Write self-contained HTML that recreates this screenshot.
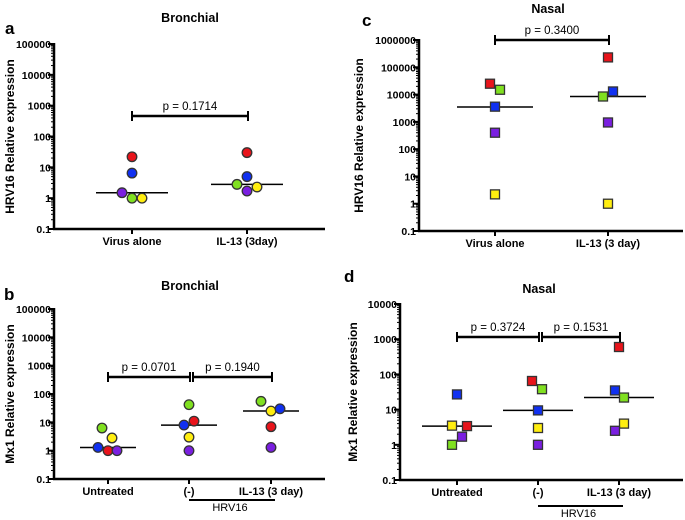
<!DOCTYPE html>
<html><head><meta charset="utf-8"><style>
body{margin:0;background:#fff;}
svg{display:block;font-family:"Liberation Sans",sans-serif;}
</style></head><body>
<svg id="fig" width="685" height="520" viewBox="0 0 685 520" xmlns="http://www.w3.org/2000/svg"></svg>
<script>
// ---- data ----
const aCategories=["Virus alone","IL-13 (3day)"];
const aColors=["red","blue","purple","green","yellow"];
const aValues=[[22,6.5,1.5,1,1],[30,5,1.7,2.8,2.3]];
const aJitter=[[0,0,-10,0,10],[0,0,0,-10,10]];
const aMedians=[1.5,2.8];
const aP=["p = 0.1714"];

const bCategories=["Untreated","(-)","IL-13 (3 day)"];
const bColors=["green","yellow","blue","red","purple"];
const bValues=[[6.3,2.8,1.3,1,1],[42,3,8,11,1],[55,25,30,7,1.3]];
const bJitter=[[-6,4,-10,0,9],[0,0,-5,5,0],[-10,0,9,0,0]];
const bMedians=[1.3,8,25];
const bP=["p = 0.0701","p = 0.1940"];

const cCategories=["Virus alone","IL-13 (3 day)"];
const cColors=["red","green","blue","purple","yellow"];
const cValues=[[25000,15000,3600,400,2.2],[230000,8500,13000,950,1]];
const cJitter=[[-5,5,0,0,0],[0,-5,5,0,0]];
const cMedians=[3500,8500];
const cP=["p = 0.3400"];

const dCategories=["Untreated","(-)","IL-13 (3 day)"];
const dColors=["blue","yellow","red","purple","green"];
const dValues=[[27,3.5,3.4,1.7,1],[9.5,3,65,1,38],[35,4,600,2.5,22]];
const dJitter=[[0,-5,10,5,-5],[0,0,-6,0,4],[-4,5,0,-4,5]];
const dMedians=[3.4,9.5,22];
const dP=["p = 0.3724","p = 0.1531"];

const COL={red:"#e8141b",blue:"#1030f0",purple:"#7a1fe0",green:"#80e020",yellow:"#ffee10"};
const NS="http://www.w3.org/2000/svg";
const svg=document.getElementById('fig');
function mk(tag,attrs,parent,text){const e=document.createElementNS(NS,tag);for(const k in attrs)e.setAttribute(k,attrs[k]);if(text!==undefined)e.textContent=text;(parent||svg).appendChild(e);return e;}

function panel(o){
  const g=mk('g',{});
  
  
  const y=v=>o.y0-(Math.log10(v)-o.minExp)/(o.maxExp-o.minExp)*(o.y0-o.y1);
  const x=i=>o.cats[i];
  // letter, title
  const L=mk('text',{x:o.letter[0],y:o.letter[1],'font-size':17,'font-weight':'bold'},g,o.letter[2]);
  
  const T=mk('text',{x:o.title[0],y:o.title[1],'font-size':12.5,'font-weight':'bold','text-anchor':'middle'},g,o.title[2]);
  
  // axes
  const ya=mk('line',{x1:o.ax,y1:o.y1-1,x2:o.ax,y2:o.y0+1,stroke:'#000','stroke-width':2.5},g);
  
  const xa=mk('line',{x1:o.ax-1,y1:o.y0,x2:o.xend,y2:o.y0,stroke:'#000','stroke-width':2.5},g);
  
  for(let e=o.minExp;e<=o.maxExp;e++){
    const yy=y(Math.pow(10,e));
    mk('line',{x1:o.ax-6,y1:yy,x2:o.ax,y2:yy,stroke:'#000','stroke-width':2},g);
    const lab=e<0?"0.1":String(Math.pow(10,e));
    const t=mk('text',{x:o.ax-3,y:yy+4,'font-size':10.5,'font-weight':'bold','text-anchor':'end'},g,lab);
    
    if(e<o.maxExp)for(let m=2;m<10;m++){const ym=y(m*Math.pow(10,e));mk('line',{x1:o.ax-3,y1:ym,x2:o.ax,y2:ym,stroke:'#000','stroke-width':1},g);}
  }
  const yt=mk('text',{transform:`translate(${o.ytx},${(o.y0+o.y1)/2}) rotate(-90)`,'font-size':12,'font-weight':'bold','text-anchor':'middle'},g,o.ytitle);
  
  o.labels.forEach((c,i)=>{
    mk('line',{x1:x(i),y1:o.y0,x2:x(i),y2:o.y0+5,stroke:'#000','stroke-width':2},g);
    const t=mk('text',{x:x(i),y:o.y0+16,'font-size':11,'font-weight':'bold','text-anchor':'middle'},g,c);
    
  });
  if(o.hrv){
    const hl=mk('line',{x1:x(1),y1:o.hrv,x2:x(2)+4,y2:o.hrv,stroke:'#000','stroke-width':2},g);
    
    const ht=mk('text',{x:(x(1)+x(2))/2,y:o.hrv+11,'font-size':11,'text-anchor':'middle'},g,'HRV16');
    
  }
  // p brackets
  o.p.forEach((p,i)=>{
    const xa1=x(i)+(i>0?4:0), xa2=x(i+1)-(i===0&&o.p.length>1?0:0)+1;
    const bg=mk('g',{},g);
    
    mk('line',{x1:xa1,y1:o.by,x2:xa2,y2:o.by,stroke:'#000','stroke-width':2.5},bg);
    mk('line',{x1:xa1,y1:o.by-5,x2:xa1,y2:o.by+5,stroke:'#000','stroke-width':2},bg);
    mk('line',{x1:xa2,y1:o.by-5,x2:xa2,y2:o.by+5,stroke:'#000','stroke-width':2},bg);
    mk('text',{x:(xa1+xa2)/2,y:o.by-6,'font-size':11.5,'text-anchor':'middle'},bg,p);
  });
  // medians
  o.medians.forEach((m,i)=>{
    const ml=mk('line',{x1:x(i)-o.mw,y1:y(m),x2:x(i)+o.mw,y2:y(m),stroke:'#000','stroke-width':1.5},g);
    
  });
  // points
  o.values.forEach((arr,i)=>arr.forEach((v,j)=>{
    const cx=x(i)+o.jitter[i][j], cy=y(v), c=COL[o.colors[j]];
    let el;
    if(o.square) el=mk('rect',{x:cx-4.5,y:cy-4.5,width:9,height:9,fill:c,stroke:'#333','stroke-width':1.3},g);
    else el=mk('circle',{cx:cx,cy:cy,r:4.8,fill:c,stroke:'#333','stroke-width':1.3},g);
    
    
  }));
}

panel({name:'panel-a-bronchial-hrv16',letter:[5,34,'a'],title:[190,22,'Bronchial'],ax:54,y0:229,y1:44,minExp:-1,maxExp:5,xend:325,ytx:14,ytitle:'HRV16 Relative expression',cats:[132,247],labels:aCategories,values:aValues,jitter:aJitter,colors:aColors,medians:aMedians,mw:36,p:aP,by:116,square:false});
panel({name:'panel-b-bronchial-mx1',letter:[4,300,'b'],title:[190,290,'Bronchial'],ax:54,y0:479,y1:309,minExp:-1,maxExp:5,xend:325,ytx:14,ytitle:'Mx1 Relative expression',cats:[108,189,271],labels:bCategories,values:bValues,jitter:bJitter,colors:bColors,medians:bMedians,mw:28,p:bP,by:377,square:false,hrv:500});
panel({name:'panel-c-nasal-hrv16',letter:[362,26,'c'],title:[548,13,'Nasal'],ax:419,y0:231,y1:40,minExp:-1,maxExp:6,xend:683,ytx:363,ytitle:'HRV16 Relative expression',cats:[495,608],labels:cCategories,values:cValues,jitter:cJitter,colors:cColors,medians:cMedians,mw:38,p:cP,by:40,square:true});
panel({name:'panel-d-nasal-mx1',letter:[344,282,'d'],title:[539,293,'Nasal'],ax:400,y0:480,y1:304,minExp:-1,maxExp:4,xend:683,ytx:357,ytitle:'Mx1 Relative expression',cats:[457,538,619],labels:dCategories,values:dValues,jitter:dJitter,colors:dColors,medians:dMedians,mw:35,p:dP,by:337,square:true,hrv:506});
</script>
</body></html>
